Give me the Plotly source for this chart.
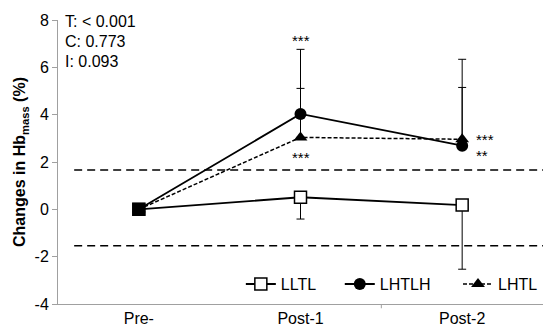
import plotly.graph_objects as go

categories = ["Pre-", "Post-1", "Post-2"]
x_pos = [0, 1, 2]

lltl = [0.0, 0.51, 0.18]
lltl_err_minus = [0.0, 0.92, 2.71]

lhtlh = [0.0, 4.03, 2.69]
lhtlh_err_plus = [0.0, 2.73, 3.65]

lhtl = [0.0, 3.04, 2.96]
lhtl_err_plus = [0.0, 2.07, 2.19]

ref_lines = [1.66, -1.54]

y_ticks = [-4, -2, 0, 2, 4, 6, 8]
y_ticklabels = ["-4", "-2", "0", "2", "4", "6", "8"]

stats_text = ["T: < 0.001", "C: 0.773", "I: 0.093"]

sig_labels = ["***", "***", "***", "**"]
sig_x = [1, 1, 2.075, 2.075]
sig_y = [7.15, 2.17, 2.96, 2.29]

FONT = "Liberation Sans, Arial, sans-serif"

fig = go.Figure()

fig.add_trace(go.Scatter(
    x=x_pos, y=lltl, name="LLTL", mode="lines+markers", legend="legend",
    line=dict(color="black", width=1.8),
    marker=dict(symbol="square", size=12, color="white", line=dict(color="black", width=1.5)),
    error_y=dict(type="data", symmetric=False, array=[0, 0, 0], arrayminus=lltl_err_minus,
                 color="black", thickness=1, width=4),
))
fig.add_trace(go.Scatter(
    x=x_pos, y=lhtlh, name="LHTLH", mode="lines+markers", legend="legend2",
    line=dict(color="black", width=1.8),
    marker=dict(symbol="circle", size=12, color="black"),
    error_y=dict(type="data", symmetric=False, array=lhtlh_err_plus, arrayminus=[0, 0, 0],
                 color="black", thickness=1, width=4),
))
fig.add_trace(go.Scatter(
    x=x_pos, y=lhtl, name="LHTL", mode="lines+markers", legend="legend3",
    line=dict(color="black", width=1.5, dash="4px,2px"),
    marker=dict(symbol="triangle-up", size=12, color="black"),
    error_y=dict(type="data", symmetric=False, array=lhtl_err_plus, arrayminus=[0, 0, 0],
                 color="black", thickness=1, width=4),
))
# overlapping baseline points at Pre- appear as a filled square
fig.add_trace(go.Scatter(
    x=x_pos[:1], y=lltl[:1], mode="markers", showlegend=False, hoverinfo="skip",
    marker=dict(symbol="square", size=13, color="black"),
))

for v in ref_lines:
    fig.add_shape(type="line", xref="x", yref="y", x0=-0.4, x1=2.5, y0=v, y1=v,
                  line=dict(color="black", width=1.5, dash="8px,5px"))

for i, t in enumerate(stats_text):
    fig.add_annotation(xref="paper", yref="paper", x=0.01, y=0.993 - i * 0.0687,
                       text=t, showarrow=False, xanchor="left", yanchor="middle",
                       font=dict(family=FONT, size=16, color="black"))

for lbl, sx, sy in zip(sig_labels, sig_x, sig_y):
    fig.add_annotation(x=sx, y=sy, text=lbl, showarrow=False,
                       xanchor="center" if sx == 1 else "left",
                       yanchor="middle", font=dict(family=FONT, size=15, color="black"))

leg_common = dict(orientation="h", y=0.07, yanchor="middle",
                  bgcolor="rgba(0,0,0,0)", font=dict(size=16), borderwidth=0)
fig.update_layout(
    width=543, height=331,
    margin=dict(l=58, r=0, t=20, b=27),
    plot_bgcolor="white", paper_bgcolor="white",
    font=dict(family=FONT, size=15, color="black"),
    showlegend=True,
    legend=dict(x=0.377, xanchor="left", **leg_common),
    legend2=dict(x=0.581, xanchor="left", **leg_common),
    legend3=dict(x=1.0, xanchor="right", **leg_common),
)
fig.update_xaxes(
    tickvals=x_pos, ticktext=categories, range=[-0.5, 2.5],
    showline=True, linecolor="#a0a0a0", linewidth=1, showgrid=False, zeroline=False,
    ticks="", tickfont=dict(size=16),
)
fig.update_yaxes(
    range=[-4, 8], tickvals=y_ticks, ticktext=y_ticklabels, showline=True,
    linecolor="#a0a0a0", linewidth=1,
    showgrid=False, zeroline=False, ticks="outside", ticklen=5, tickcolor="#a0a0a0",
    tickfont=dict(size=16),
    title=dict(text="<b>Changes in Hb<sub>mass</sub> (%)</b>", font=dict(size=16), standoff=4),
)
for xb in [1.5]:
    fig.add_shape(type="line", xref="x", yref="paper", x0=xb, x1=xb, y0=0, y1=-0.015,
                  line=dict(color="#a0a0a0", width=1))

fig.write_html("out.html")
